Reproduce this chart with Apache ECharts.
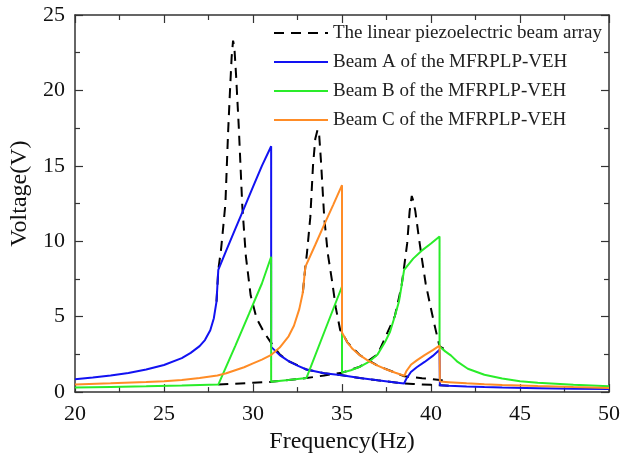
<!DOCTYPE html>
<html>
<head>
<meta charset="utf-8">
<script src="https://cdn.jsdelivr.net/npm/echarts@6/dist/echarts.min.js"></script>
<style>
  html, body { margin: 0; padding: 0; background: #fff; }
  #main { width: 623px; height: 459px; }
</style>
</head>
<body>
<div id="main"></div>
<script>
// tick values of the axes
var freqTicks = [20, 25, 30, 35, 40, 45, 50];
var voltTicks = [0, 5, 10, 15, 20, 25];

// legend names
var nameLinear = 'The linear piezoelectric beam array';
var nameA = 'Beam A of the MFRPLP-VEH';
var nameB = 'Beam B of the MFRPLP-VEH';
var nameC = 'Beam C of the MFRPLP-VEH';

// Beam A (blue)
var freqA = [20, 21, 22, 23, 24, 25, 26, 26.5, 27, 27.3, 27.6, 27.8, 27.95, 28.05, 28.5, 29, 29.5, 30, 30.5, 31.02, 31.02, 31.5, 32, 32.5, 33, 34, 35, 36, 37, 38, 38.49, 38.6, 38.87, 39.2, 39.64, 40.1, 40.48, 40.5, 41, 42, 43, 44, 46, 48, 50];
var voltA = [0.85, 0.97, 1.1, 1.27, 1.5, 1.8, 2.25, 2.6, 3.05, 3.45, 4.1, 4.9, 6.0, 8.1, 9.4, 10.8, 12.2, 13.6, 15.0, 16.3, 3.0, 2.45, 2.05, 1.75, 1.5, 1.25, 1.12, 0.93, 0.78, 0.64, 0.57, 0.85, 1.33, 1.65, 2.0, 2.4, 2.8, 0.45, 0.42, 0.37, 0.33, 0.3, 0.26, 0.22, 0.2];

// Beam B (green)
var freqB = [20, 22, 24, 26, 28.05, 29, 29.78, 30.5, 31.02, 31.02, 32, 33.0, 34.06, 35.0, 35.0, 35.5, 36, 36.48, 37, 37.41, 37.7, 37.97, 38.2, 38.34, 38.49, 39, 39.46, 40, 40.48, 40.48, 40.8, 41.13, 41.5, 42.07, 43, 44, 45, 46, 48, 50];
var voltB = [0.3, 0.34, 0.38, 0.43, 0.5, 3.05, 5.2, 7.2, 8.97, 0.68, 0.8, 0.93, 4.15, 7.0, 1.29, 1.45, 1.68, 1.98, 2.5, 3.3, 4.0, 5.04, 6.0, 7.0, 8.1, 8.85, 9.36, 9.85, 10.32, 3.03, 2.7, 2.42, 2.0, 1.55, 1.15, 0.9, 0.72, 0.62, 0.48, 0.39];

// Beam C (orange)
var freqC = [20, 22, 24, 25, 26, 27, 28, 28.5, 29, 29.5, 30, 30.5, 31, 31.5, 32, 32.3, 32.6, 32.8, 32.94, 33.5, 34, 34.5, 35.0, 35.0, 35.3, 35.6, 36, 36.5, 37, 37.5, 38, 38.5, 38.62, 38.87, 39.2, 39.64, 40.1, 40.48, 40.5, 41, 42, 43, 44, 45, 46, 48, 50];
var voltC = [0.5, 0.58, 0.67, 0.72, 0.8, 0.93, 1.1, 1.25, 1.45, 1.65, 1.9, 2.15, 2.45, 2.95, 3.7, 4.4, 5.5, 6.6, 8.3, 9.77, 11.1, 12.4, 13.72, 3.95, 3.3, 2.85, 2.45, 2.05, 1.75, 1.5, 1.28, 1.08, 1.4, 1.81, 2.1, 2.45, 2.78, 3.08, 0.7, 0.66, 0.58, 0.52, 0.47, 0.44, 0.4, 0.33, 0.28];

// linear beam array (dashed), one resonance per beam
var linFreq1 = [27.95, 28.05, 28.2, 28.3, 28.45, 28.6, 28.7, 28.8, 28.88, 28.95, 29.05, 29.2, 29.4, 29.6, 29.87, 30.2, 30.6, 31.0, 31.5, 32, 33, 34, 35, 36, 37, 38, 38.49, 39, 39.5, 40, 40.5, 41];
var linVolt1 = [6.0, 8.1, 9.4, 10.6, 12.5, 17.2, 19.8, 22.2, 23.3, 22.9, 21.0, 17.6, 12.3, 9.0, 6.4, 4.9, 4.0, 3.3, 2.5, 2.05, 1.5, 1.25, 1.12, 0.93, 0.78, 0.64, 0.57, 0.54, 0.51, 0.48, 0.45, 0.42];
var linFreq2 = [32.8, 32.94, 33.03, 33.22, 33.37, 33.5, 33.63, 33.72, 33.82, 34.0, 34.2, 34.45, 34.65, 34.9, 35.0, 35.3, 36, 37, 38, 38.5, 39, 39.5, 40, 40.5, 41];
var linVolt2 = [6.6, 8.3, 9.2, 11.6, 15.0, 16.8, 17.4, 17.0, 15.3, 11.6, 9.2, 7.3, 5.6, 4.1, 3.95, 3.3, 2.45, 1.75, 1.28, 1.05, 0.98, 0.92, 0.87, 0.8, 0.7];
var linFreq3 = [28.05, 29, 30, 31, 32, 33, 34, 35, 36, 37, 37.97, 38.34, 38.49, 38.66, 38.8, 38.92, 39.0, 39.12, 39.3, 39.5, 39.7, 39.93, 40.15, 40.34, 40.48, 41];
var linVolt3 = [0.5, 0.56, 0.62, 0.68, 0.8, 0.93, 1.1, 1.29, 1.68, 2.5, 5.04, 7.0, 8.3, 9.84, 12.0, 13.0, 12.7, 12.0, 10.4, 8.75, 7.2, 5.9, 4.7, 3.73, 3.03, 2.7];

function zip(f, v) {
  var out = [];
  for (var i = 0; i < f.length; i++) out.push([f[i], v[i]]);
  return out;
}

var font = 'Liberation Serif, Times New Roman, serif';
var axisColor = '#333';

function frameAxis(pos, min, max) {
  return {
    type: 'value',
    position: pos,
    min: min,
    max: max,
    interval: 5,
    axisLine: { show: true, onZero: false, lineStyle: { color: axisColor, width: 1.5 } },
    axisTick: { show: true, inside: true, length: 8, lineStyle: { color: axisColor, width: 1.2 } },
    minorTick: { show: true, splitNumber: 2, length: 5, lineStyle: { color: axisColor, width: 1.2 } },
    splitLine: { show: false },
    axisLabel: { show: false }
  };
}

var xMain = frameAxis('bottom', freqTicks[0], freqTicks[freqTicks.length - 1]);
xMain.axisLabel = { show: true, fontFamily: font, fontSize: 22, color: '#111', margin: 11 };
xMain.name = 'Frequency(Hz)';
xMain.nameLocation = 'middle';
xMain.nameGap = 34;
xMain.nameTextStyle = { fontFamily: font, fontSize: 24, color: '#111' };
var xTop = frameAxis('top', freqTicks[0], freqTicks[freqTicks.length - 1]);

var yMain = frameAxis('left', voltTicks[0], voltTicks[voltTicks.length - 1]);
yMain.axisLabel = { show: true, fontFamily: font, fontSize: 22, color: '#111', margin: 10 };
yMain.name = 'Voltage(V)';
yMain.nameLocation = 'middle';
yMain.nameGap = 27;
yMain.nameRotate = 90;
yMain.nameTextStyle = { fontFamily: font, fontSize: 24, color: '#111', padding: [0, 0, 0, 20] };
var yRight = frameAxis('right', voltTicks[0], voltTicks[voltTicks.length - 1]);

function lineSeries(name, data, color, dashed, z) {
  return {
    type: 'line',
    name: name,
    data: data,
    xAxisIndex: 0,
    yAxisIndex: 0,
    symbol: 'none',
    showSymbol: false,
    smooth: false,
    z: z,
    lineStyle: { color: color, width: 2, type: dashed ? [10, 7] : 'solid' },
    itemStyle: { color: color }
  };
}

var myChart = echarts.init(document.getElementById('main'));
var option = {
  animation: false,
  backgroundColor: '#fff',
  grid: { left: 75, right: 11, top: 15, bottom: 62, containLabel: false },
  legend: {
    data: [nameLinear, nameA, nameB, nameC],
    orient: 'vertical',
    left: 273,
    top: 23,
    padding: 0,
    itemWidth: 54,
    itemHeight: 14,
    itemGap: 9,
    itemStyle: { opacity: 0 },
    textStyle: { fontFamily: font, fontSize: 19, color: '#222', lineHeight: 20 }
  },
  xAxis: [xMain, xTop],
  yAxis: [yMain, yRight],
  series: [
    lineSeries(nameLinear, zip(linFreq1, linVolt1), '#000', true, 1),
    lineSeries(nameLinear, zip(linFreq2, linVolt2), '#000', true, 1),
    lineSeries(nameLinear, zip(linFreq3, linVolt3), '#000', true, 1),
    lineSeries(nameA, zip(freqA, voltA), '#1212f2', false, 3),
    lineSeries(nameB, zip(freqB, voltB), '#2aec2a', false, 3),
    lineSeries(nameC, zip(freqC, voltC), '#ff8c26', false, 4)
  ]
};
myChart.setOption(option);
</script>
</body>
</html>
